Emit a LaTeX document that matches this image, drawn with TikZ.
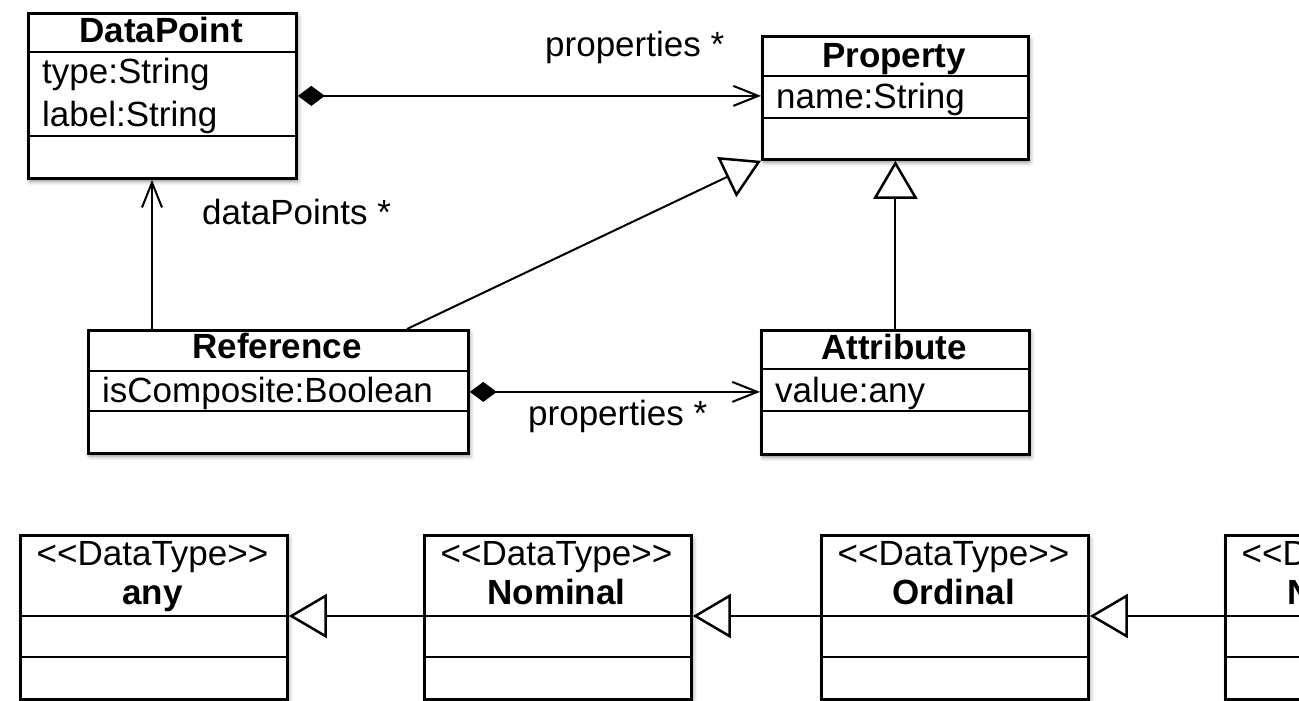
\documentclass[tikz,border=0pt]{standalone}
\usepackage{fontspec}
\setmainfont{Liberation Sans}
\usetikzlibrary{arrows.meta,shadows.blur}

\newcommand\diagfont{\fontsize{35}{42}\selectfont}

\tikzset{
  cls/.style={draw=black, line width=2.8pt, fill=white, anchor=north west, inner sep=0pt,
    blur shadow={shadow xshift=1.5pt, shadow yshift=-3pt, shadow blur radius=4pt, shadow opacity=45}},
  sep/.style={line width=2.5pt},
  conn/.style={line width=2pt},
  head/.style={font=\diagfont\bfseries, anchor=base, inner sep=0pt},
  attr/.style={anchor=base west, inner sep=0pt},
  stereo/.style={anchor=base, inner sep=0pt},
  lbl/.style={anchor=base west, inner sep=0pt},
  inherit/.style={conn, -{Triangle[open, length=38pt, width=44pt, line width=2.5pt]}},
  compose/.style={conn, {Diamond[length=27pt, width=20pt]}-{Straight Barb[length=25pt, width=20pt, line width=2pt]}},
  navig/.style={conn, -{Straight Barb[length=25pt, width=20pt, line width=2pt]}},
}

\begin{document}
\begin{tikzpicture}[x=1pt, y=-1pt, font=\diagfont]
\useasboundingbox (0,0) rectangle (1299,701);
\clip (0,0) rectangle (1299,701);

% ---- DataPoint ----
\node[cls, minimum width=268pt, minimum height=165pt] (dp) at (27,12) {};
\draw[sep] (dp.west |- 0,52) -- (dp.east |- 0,52);
\draw[sep] (dp.west |- 0,136) -- (dp.east |- 0,136);
\node[head] (dp-name) at (161,43) {DataPoint};
\node[attr] (dp-type) at (42,84) {type:String};
\node[attr] (dp-label) at (42,126) {label:String};

% ---- Property ----
\node[cls, minimum width=266pt, minimum height=123pt] (pr) at (761,35) {};
\draw[sep] (pr.west |- 0,76) -- (pr.east |- 0,76);
\draw[sep] (pr.west |- 0,118) -- (pr.east |- 0,118);
\node[head] (pr-name) at (894,67) {Property};
\node[attr] (pr-nm) at (776,108) {name:String};

% ---- Reference ----
\node[cls, minimum width=380pt, minimum height=123pt] (ref) at (87,329) {};
\draw[sep] (ref.west |- 0,371) -- (ref.east |- 0,371);
\draw[sep] (ref.west |- 0,411) -- (ref.east |- 0,411);
\node[head] (ref-name) at (277,358) {Reference};
\node[attr] (ref-comp) at (102,402) {isComposite:Boolean};

% ---- Attribute ----
\node[cls, minimum width=268pt, minimum height=124pt] (at) at (760,329) {};
\draw[sep] (at.west |- 0,369) -- (at.east |- 0,369);
\draw[sep] (at.west |- 0,411) -- (at.east |- 0,411);
\node[head] (at-name) at (894,359) {Attribute};
\node[attr] (at-val) at (775,402) {value:any};

% ---- Data types ----
\foreach \id/\x/\nm in {any/19/any, nom/423/Nominal, ord/820/Ordinal, num/1224/Numeric}{
  \node[cls, minimum width=267pt, minimum height=164pt] (\id) at (\x,534) {};
  \draw[sep] (\id.west |- 0,616) -- (\id.east |- 0,616);
  \draw[sep] (\id.west |- 0,657) -- (\id.east |- 0,657);
  \node[stereo] (\id-st) at (\x+133.5,565) {<{}<DataType>{}>};
  \node[head] (\id-name) at (\x+133.5,604) {\nm};
  \coordinate (\id-s) at ([yshift=-82pt]\id.north west);
}

% ---- Connectors ----
\draw[compose] (dp.east) -- (dp.east -| pr.west);
\node[lbl] (l-props1) at (545,57) {properties *};

\coordinate (ref-up) at ([xshift=65pt]ref.north west);
\draw[navig] (ref-up) -- (ref-up |- dp.south);
\node[lbl] (l-dps) at (202,224) {dataPoints *};

\coordinate (ref-gen) at ([xshift=320pt]ref.north west);
\draw[inherit] (ref-gen) -- (pr.south west);
\draw[inherit] (at.north) -- (at.north |- pr.south);

\draw[compose] (ref.east) -- (ref.east -| at.west);
\node[lbl] (l-props2) at (528,425) {properties *};

\draw[inherit] (nom-s) -- (nom-s -| any.east);
\draw[inherit] (ord-s) -- (ord-s -| nom.east);
\draw[inherit] (num-s) -- (num-s -| ord.east);
\end{tikzpicture}
\end{document}
